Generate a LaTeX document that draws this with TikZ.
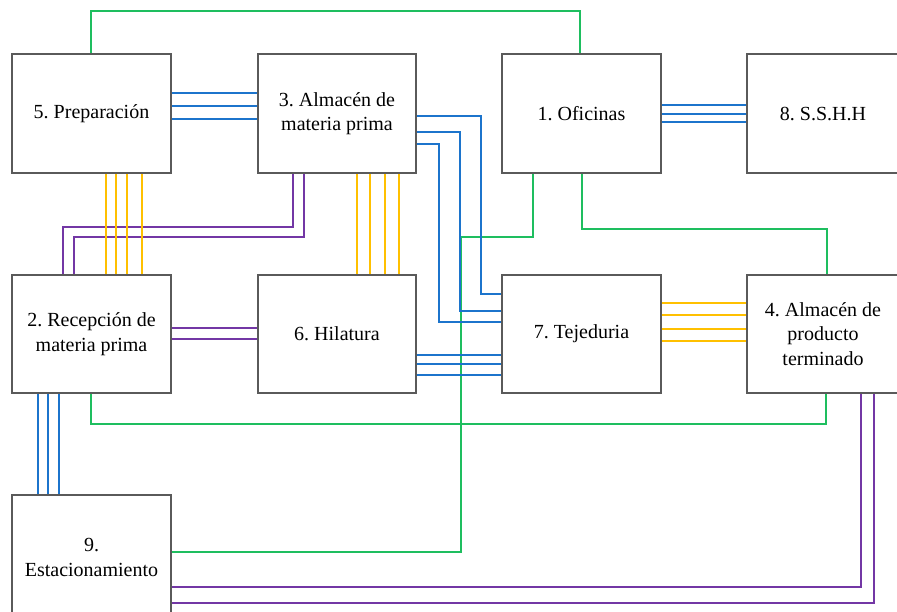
\documentclass[tikz,border=0pt]{standalone}
\usepackage{fontspec}
\setmainfont{Liberation Serif}
\frenchspacing
\definecolor{boxgray}{RGB}{90,90,90}
\definecolor{lblue}{RGB}{28,116,204}
\definecolor{lgreen}{RGB}{30,190,95}
\definecolor{lyellow}{RGB}{255,192,0}
\definecolor{lpurple}{RGB}{115,55,165}
\begin{document}
\begin{tikzpicture}[x=1pt,y=-1pt,
  area/.style={draw=boxgray, line width=1.7pt, fill=white, align=center,
    inner sep=0pt, font=\fontsize{20}{24.5}\selectfont},
  wire/.style={line width=2.9pt, line join=miter},
  bl/.style={wire, draw=lblue},
  gr/.style={wire, draw=lgreen},
  ye/.style={wire, draw=lyellow},
  pu/.style={wire, draw=lpurple}]
\clip (0,0) rectangle (897,612);

% work areas
\node[area, minimum width=159pt, minimum height=119pt] (n5) at (91.5,113.5) {5. Preparación};
\node[area, minimum width=158pt, minimum height=119pt] (n3) at (337,113.5) {3. Almacén de\\materia prima};
\node[area, minimum width=159pt, minimum height=119pt] (n1) at (581.5,113.5) {1. Oficinas};
\node[area, minimum width=152pt, minimum height=119pt] (n8) at (823,113.5) {8. S.S.H.H};
\node[area, minimum width=159pt, minimum height=118pt] (n2) at (91.5,334) {2. Recepción de\\materia prima};
\node[area, minimum width=158pt, minimum height=118pt] (n6) at (337,334) {6. Hilatura};
\node[area, minimum width=159pt, minimum height=118pt] (n7) at (581.5,334) {7. Tejeduria};
\node[area, minimum width=152pt, minimum height=118pt] (n4) at (823,334) {4. Almacén de\\producto\\terminado};
\node[area, minimum width=159pt, minimum height=125pt] (n9) at (91.5,557.5) {9.\\Estacionamiento};

% green links
\draw[gr] (n5.north -| 91,0) -- (91,11) -| (n1.north -| 580,0);
\draw[gr] (n2.south -| 91,0) -- (91,424) -| (n4.south -| 826,0);
\draw[gr] (n1.south -| 533,0) -- (533,237) -| (461,552) -- (n9.east |- 0,552);
\draw[gr] (n1.south -| 582,0) -- (582,229) -| (n4.north -| 827,0);

% purple links
\draw[pu] (n3.south -| 293,0) -- (293,227) -| (n2.north -| 63,0);
\draw[pu] (n3.south -| 304,0) -- (304,237) -| (n2.north -| 74,0);
\foreach \y in {328,339}
  \draw[pu] (n2.east |- 0,\y) -- (n6.west |- 0,\y);
\draw[pu] (n4.south -| 861,0) -- (861,587) -- (n9.east |- 0,587);
\draw[pu] (n4.south -| 874,0) -- (874,603) -- (n9.east |- 0,603);

% yellow links
\foreach \x in {106,116,127,142}
  \draw[ye] (n5.south -| \x,0) -- (n2.north -| \x,0);
\foreach \x in {357,370,385,399}
  \draw[ye] (n3.south -| \x,0) -- (n6.north -| \x,0);
\foreach \y in {303,315,329,341}
  \draw[ye] (n7.east |- 0,\y) -- (n4.west |- 0,\y);

% blue links
\foreach \y in {93,106,119}
  \draw[bl] (n5.east |- 0,\y) -- (n3.west |- 0,\y);
\foreach \y in {105,114,122}
  \draw[bl] (n1.east |- 0,\y) -- (n8.west |- 0,\y);
\draw[bl] (n3.east |- 0,116) -| (481,294) -- (n7.west |- 0,294);
\draw[bl] (n3.east |- 0,132) -| (460,311) -- (n7.west |- 0,311);
\draw[bl] (n3.east |- 0,144) -| (439,322) -- (n7.west |- 0,322);
\foreach \y in {355,364,375}
  \draw[bl] (n6.east |- 0,\y) -- (n7.west |- 0,\y);
\foreach \x in {38,48,59}
  \draw[bl] (n2.south -| \x,0) -- (n9.north -| \x,0);
\end{tikzpicture}
\end{document}
